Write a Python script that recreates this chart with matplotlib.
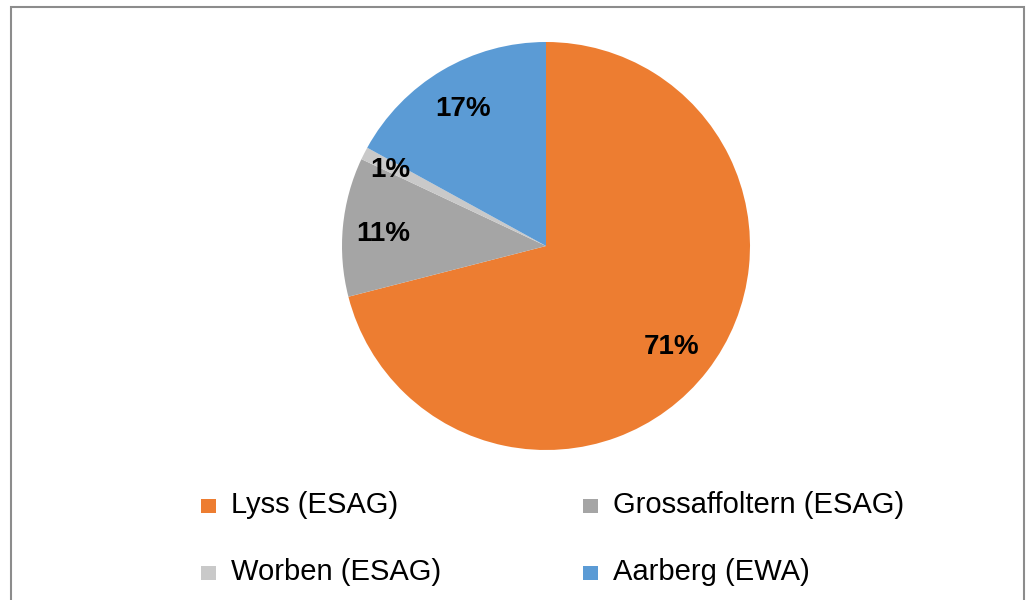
import matplotlib
matplotlib.use("Agg")
import numpy as np
import matplotlib.pyplot as plt
from matplotlib.patches import Rectangle

# --- Daten ---
labels = ['Lyss (ESAG)', 'Grossaffoltern (ESAG)', 'Worben (ESAG)', 'Aarberg (EWA)']
shares = [71, 11, 1, 17]
colors = ['#ED7D31', '#A5A5A5', '#C9C9C9', '#5B9BD5']

plt.rcParams['font.family'] = ['Liberation Sans', 'DejaVu Sans']

W, H = 1030, 600
cx, cy, R = 546, H - 246, 204

fig = plt.figure(figsize=(W / 100, H / 100), dpi=100)
ax = fig.add_axes([0, 0, 1, 1])
ax.set_xlim(0, W)
ax.set_ylim(0, H)
ax.set_aspect('equal')
ax.axis('off')

# Rahmen
ax.add_patch(Rectangle((11, -10), 1013, H - 7 + 10, fill=False,
                       edgecolor='#8C8C8C', linewidth=1.5))

wedges, _ = ax.pie(shares, colors=colors, startangle=90, counterclock=False,
                   center=(cx, cy), radius=R, wedgeprops=dict(linewidth=0))
ax.set_xlim(0, W)
ax.set_ylim(0, H)

# Prozent-Beschriftungen (Abstand je Segment wie im Original)
lab_dist = [0.78, 0.80, 0.855, 0.80]
for w, s, d in zip(wedges, shares, lab_dist):
    ang = np.deg2rad((w.theta1 + w.theta2) / 2)
    x = cx + d * R * np.cos(ang)
    y = cy + d * R * np.sin(ang)
    ax.text(x, y - 10, f'{s}%', fontsize=20, fontweight='bold',
            ha='center', va='baseline', color='black')

# Legende
pos = [(208, 506), (590, 506), (208, 573), (590, 573)]
for (x, y), lab, col in zip(pos, labels, colors):
    ax.add_patch(Rectangle((x - 7.5, H - y - 7), 15, 14, color=col, linewidth=0))
    ax.text(x + 23, H - y - 7, lab, fontsize=21, va='baseline', ha='left')

fig.savefig('out.png', dpi=100)
